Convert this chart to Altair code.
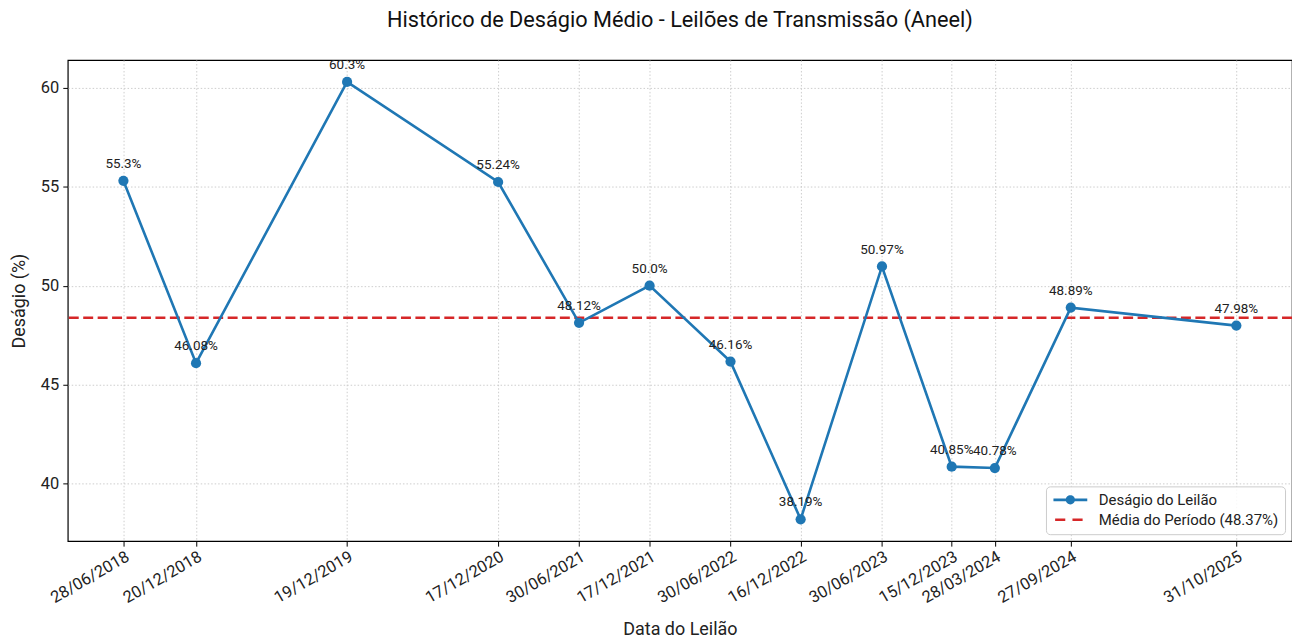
import altair as alt
import pandas as pd

# ---- data ----
datas = ["2018-06-28", "2018-12-20", "2019-12-19", "2020-12-17", "2021-06-30",
         "2021-12-17", "2022-06-30", "2022-12-16", "2023-06-30", "2023-12-15",
         "2024-03-28", "2024-09-27", "2025-10-31"]
desagios = [55.3, 46.08, 60.3, 55.24, 48.12, 50.0, 46.16, 38.19, 50.97, 40.85,
            40.78, 48.89, 47.98]
rotulos = [f"{v}%" for v in desagios]
y_ticks = [40, 45, 50, 55, 60]

serie_linha = "Deságio do Leilão"
media = sum(desagios) / len(desagios)
serie_media = f"Média do Período ({media:.2f}%)"

AZUL = "#1f77b4"
VERMELHO = "#d62728"
FONT = "Roboto"

ms = [int(pd.Timestamp(d, tz="UTC").timestamp() * 1000) for d in datas]
df = pd.DataFrame({"t": ms, "desagio": desagios, "rotulo": rotulos, "serie": serie_linha})
df_media = pd.DataFrame({"media": [media], "serie": [serie_media]})

# matplotlib-like 5% margins
span_x = max(ms) - min(ms)
x_dom = [min(ms) - 0.05 * span_x, max(ms) + 0.05 * span_x]
span_y = max(desagios) - min(desagios)
y_dom = [min(desagios) - 0.05 * span_y, max(desagios) + 0.05 * span_y]

x_enc = alt.X(
    "t:T",
    scale=alt.Scale(type="utc", domain=x_dom, nice=False),
    axis=alt.Axis(
        values=ms, format="%d/%m/%Y", labelAngle=-30, labelAlign="right",
        labelBaseline="top", labelPadding=2, labelOverlap=False, labelFlush=False,
        labelFontSize=16.5, title="Data do Leilão", titlePadding=15,
    ),
)
y_scale = alt.Scale(domain=y_dom, nice=False, zero=False)
y_enc = alt.Y(
    "desagio:Q", scale=y_scale,
    axis=alt.Axis(values=y_ticks, title="Deságio (%)", titlePadding=12, labelPadding=4,
                  labelFontSize=16.5),
)

linha = alt.Chart(df).mark_line(color=AZUL, strokeWidth=2.6).encode(x=x_enc, y=y_enc)
pontos = alt.Chart(df).mark_point(filled=True, color=AZUL, size=105, opacity=1).encode(x=x_enc, y=y_enc)
textos = alt.Chart(df).mark_text(
    fontSize=13.5, baseline="bottom", dy=-10, color="#222222", font=FONT
).encode(x=x_enc, y=y_enc, text="rotulo:N")
regra = alt.Chart(df_media).mark_rule(
    color=VERMELHO, strokeWidth=2.6, strokeDash=[10, 4.5]
).encode(y=alt.Y("media:Q", scale=y_scale))

# legend symbols: path units are 6px (symbolSize 144); line + dot, dashed line
sym_linha = ("M-2.83,-0.22L2.83,-0.22L2.83,0.22L-2.83,0.22Z "
             "M0.78,0A0.78,0.78 0 1,1 -0.78,0A0.78,0.78 0 1,1 0.78,0Z")
sym_trac = ("M-2.55,-0.22L-0.85,-0.22L-0.85,0.22L-2.55,0.22Z "
            "M0.35,-0.22L2.05,-0.22L2.05,0.22L0.35,0.22Z")
dominio = [serie_linha, serie_media]
leg = alt.Legend(
    title=None, orient="bottom-right", offset=7, padding=6,
    fillColor="rgba(255,255,255,0.85)", strokeColor="#cccccc", cornerRadius=4,
    symbolSize=144, symbolStrokeWidth=0, symbolOpacity=1, symbolOffset=11,
    labelFontSize=15, labelFont=FONT, labelColor="#222222", labelOffset=21,
    labelLimit=400, rowPadding=4,
)
legenda = alt.Chart(df).transform_filter("false").mark_point(filled=True, opacity=1).encode(
    color=alt.Color("serie:N", scale=alt.Scale(domain=dominio, range=[AZUL, VERMELHO]), legend=leg),
    shape=alt.Shape("serie:N", scale=alt.Scale(domain=dominio, range=[sym_linha, sym_trac]), legend=leg),
)

chart = alt.layer(regra, linha, pontos, textos, legenda).properties(
    width=1229, height=483,
    title=alt.TitleParams(
        "Histórico de Deságio Médio - Leilões de Transmissão (Aneel)",
        fontSize=21.8, font=FONT, fontWeight="normal", color="#111111", offset=26,
    ),
    autosize=alt.AutoSizeParams(type="none"),
    padding={"left": 60, "top": 51, "right": 0, "bottom": 98},
).configure_view(
    stroke="black", strokeWidth=1.2
).configure_axis(
    domain=False, grid=True, gridColor="#c8c8c8", gridDash=[1.5, 2], gridWidth=0.9,
    tickColor="black", tickSize=5, tickWidth=1,
    labelFont=FONT, labelColor="#222222",
    titleFont=FONT, titleFontSize=18, titleFontWeight="normal", titleColor="#222222",
).configure_legend(
    symbolStrokeWidth=0
)

chart.save("out.html", embed_options={"renderer": "svg", "actions": False})
